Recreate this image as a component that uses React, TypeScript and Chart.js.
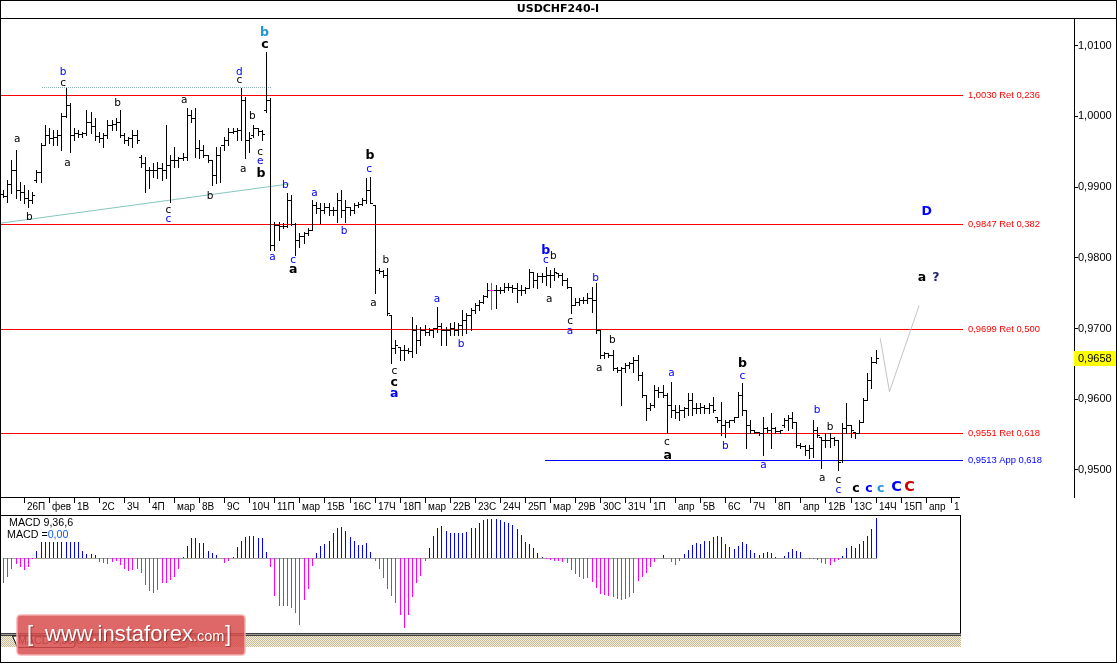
import React, { useEffect, useRef } from "react";
import { Chart, registerables } from "chart.js";

Chart.register(...registerables);

// ---------------- data: USDCHF 4-hour bars ----------------
const opens = [
  0.9890, 0.9888, 0.9904, 0.9924, 0.9896, 0.9893, 0.9885, 0.9882, 0.9910, 0.9921,
  0.9960, 0.9974, 0.9970, 0.9971, 0.9974, 1.0001, 1.0016, 0.9974, 0.9977, 0.9975,
  0.9977, 0.9992, 0.9987, 0.9972, 0.9970, 0.9974, 0.9988, 0.9989, 0.9992, 0.9974,
  0.9967, 0.9970, 0.9974, 0.9943, 0.9934, 0.9924, 0.9924, 0.9924, 0.9927, 0.9924,
  0.9931, 0.9938, 0.9938, 0.9941, 0.9943, 1.0002, 0.9998, 0.9955, 0.9953, 0.9946,
  0.9938, 0.9917, 0.9946, 0.9960, 0.9967, 0.9978, 0.9979, 0.9981, 1.0023, 0.9967,
  0.9974, 0.9984, 0.9979, 1.0009, 1.0023, 0.9818, 0.9847, 0.9845, 0.9845, 0.9882,
  0.9848, 0.9825, 0.9831, 0.9835, 0.9839, 0.9875, 0.9871, 0.9868, 0.9872, 0.9868,
  0.9868, 0.9882, 0.9868, 0.9872, 0.9868, 0.9875, 0.9876, 0.9882, 0.9896, 0.9875,
  0.9783, 0.9781, 0.9776, 0.9719, 0.9673, 0.9674, 0.9670, 0.9670, 0.9668, 0.9698,
  0.9684, 0.9698, 0.9695, 0.9698, 0.9701, 0.9704, 0.9698, 0.9698, 0.9701, 0.9698,
  0.9705, 0.9712, 0.9719, 0.9726, 0.9733, 0.9738, 0.9746, 0.9755, 0.9755, 0.9755,
  0.9755, 0.9759, 0.9759, 0.9757, 0.9755, 0.9755, 0.9757, 0.9780, 0.9769, 0.9774,
  0.9774, 0.9776, 0.9776, 0.9779, 0.9776, 0.9769, 0.9759, 0.9733, 0.9738, 0.9740,
  0.9740, 0.9743, 0.9740, 0.9698, 0.9663, 0.9665, 0.9663, 0.9644, 0.9641, 0.9644,
  0.9649, 0.9651, 0.9656, 0.9634, 0.9606, 0.9588, 0.9592, 0.9613, 0.9610, 0.9606,
  0.9592, 0.9585, 0.9582, 0.9585, 0.9588, 0.9599, 0.9588, 0.9588, 0.9589, 0.9588,
  0.9592, 0.9575, 0.9571, 0.9564, 0.9568, 0.9571, 0.9575, 0.9606, 0.9585, 0.9564,
  0.9557, 0.9554, 0.9552, 0.9559, 0.9557, 0.9559, 0.9555, 0.9564, 0.9571, 0.9574,
  0.9568, 0.9535, 0.9534, 0.9528, 0.9531, 0.9557, 0.9547, 0.9542, 0.9542, 0.9545,
  0.9542, 0.9514, 0.9559, 0.9564, 0.9554, 0.9552, 0.9568, 0.9599, 0.9627, 0.9653,
];

const highs = [
  0.9896, 0.9910, 0.9938, 0.9953, 0.9907, 0.9903, 0.9896, 0.9893, 0.9924, 0.9962,
  0.9988, 0.9984, 0.9981, 0.9981, 1.0005, 1.0040, 1.0019, 0.9984, 0.9981, 0.9978,
  1.0009, 1.0006, 0.9998, 0.9978, 0.9977, 0.9995, 0.9995, 0.9998, 1.0009, 0.9977,
  0.9971, 0.9981, 0.9981, 0.9946, 0.9943, 0.9929, 0.9934, 0.9936, 0.9934, 0.9988,
  0.9946, 0.9957, 0.9943, 0.9948, 1.0012, 1.0009, 1.0012, 0.9967, 0.9960, 0.9946,
  0.9938, 0.9957, 0.9957, 0.9971, 0.9984, 0.9984, 0.9984, 1.0040, 1.0028, 0.9978,
  0.9988, 0.9984, 0.9981, 1.0091, 1.0026, 0.9851, 0.9851, 0.9849, 0.9892, 0.9889,
  0.9849, 0.9835, 0.9837, 0.9842, 0.9882, 0.9879, 0.9878, 0.9878, 0.9878, 0.9872,
  0.9892, 0.9896, 0.9882, 0.9872, 0.9878, 0.9879, 0.9885, 0.9913, 0.9914, 0.9875,
  0.9786, 0.9783, 0.9786, 0.9719, 0.9684, 0.9674, 0.9677, 0.9673, 0.9716, 0.9705,
  0.9702, 0.9705, 0.9701, 0.9701, 0.9731, 0.9708, 0.9702, 0.9708, 0.9709, 0.9708,
  0.9726, 0.9722, 0.9729, 0.9736, 0.9740, 0.9748, 0.9764, 0.9764, 0.9762, 0.9759,
  0.9764, 0.9764, 0.9762, 0.9764, 0.9762, 0.9759, 0.9784, 0.9780, 0.9779, 0.9779,
  0.9787, 0.9783, 0.9786, 0.9779, 0.9779, 0.9772, 0.9759, 0.9743, 0.9743, 0.9745,
  0.9750, 0.9759, 0.9764, 0.9698, 0.9667, 0.9665, 0.9670, 0.9646, 0.9646, 0.9651,
  0.9653, 0.9660, 0.9663, 0.9639, 0.9606, 0.9595, 0.9620, 0.9617, 0.9620, 0.9609,
  0.9624, 0.9592, 0.9592, 0.9589, 0.9609, 0.9609, 0.9595, 0.9595, 0.9592, 0.9595,
  0.9603, 0.9575, 0.9596, 0.9571, 0.9571, 0.9575, 0.9610, 0.9623, 0.9585, 0.9571,
  0.9557, 0.9554, 0.9575, 0.9561, 0.9581, 0.9561, 0.9557, 0.9574, 0.9578, 0.9582,
  0.9568, 0.9538, 0.9535, 0.9535, 0.9571, 0.9561, 0.9547, 0.9552, 0.9552, 0.9547,
  0.9542, 0.9566, 0.9595, 0.9564, 0.9554, 0.9571, 0.9602, 0.9637, 0.9660, 0.9670,
];

const lows = [
  0.9886, 0.9879, 0.9892, 0.9885, 0.9882, 0.9878, 0.9872, 0.9878, 0.9907, 0.9907,
  0.9960, 0.9962, 0.9960, 0.9960, 0.9953, 0.9999, 0.9950, 0.9967, 0.9971, 0.9971,
  0.9974, 0.9977, 0.9967, 0.9964, 0.9957, 0.9970, 0.9981, 0.9981, 0.9971, 0.9962,
  0.9960, 0.9957, 0.9962, 0.9929, 0.9893, 0.9899, 0.9914, 0.9913, 0.9910, 0.9913,
  0.9879, 0.9929, 0.9929, 0.9938, 0.9938, 0.9992, 0.9943, 0.9941, 0.9943, 0.9936,
  0.9903, 0.9906, 0.9907, 0.9953, 0.9960, 0.9977, 0.9967, 0.9967, 0.9941, 0.9950,
  0.9971, 0.9974, 0.9967, 1.0006, 0.9811, 0.9811, 0.9825, 0.9842, 0.9844, 0.9847,
  0.9804, 0.9815, 0.9821, 0.9832, 0.9839, 0.9863, 0.9849, 0.9863, 0.9861, 0.9861,
  0.9851, 0.9858, 0.9851, 0.9861, 0.9863, 0.9872, 0.9875, 0.9878, 0.9878, 0.9750,
  0.9779, 0.9773, 0.9719, 0.9651, 0.9665, 0.9656, 0.9656, 0.9665, 0.9660, 0.9665,
  0.9677, 0.9691, 0.9691, 0.9688, 0.9695, 0.9677, 0.9677, 0.9691, 0.9691, 0.9691,
  0.9691, 0.9694, 0.9698, 0.9722, 0.9726, 0.9736, 0.9745, 0.9728, 0.9729, 0.9750,
  0.9752, 0.9755, 0.9752, 0.9738, 0.9748, 0.9750, 0.9757, 0.9759, 0.9757, 0.9766,
  0.9762, 0.9759, 0.9769, 0.9773, 0.9762, 0.9757, 0.9722, 0.9733, 0.9733, 0.9736,
  0.9736, 0.9723, 0.9694, 0.9658, 0.9658, 0.9660, 0.9641, 0.9639, 0.9592, 0.9639,
  0.9644, 0.9639, 0.9627, 0.9603, 0.9571, 0.9585, 0.9589, 0.9603, 0.9603, 0.9552,
  0.9575, 0.9574, 0.9571, 0.9575, 0.9578, 0.9578, 0.9581, 0.9581, 0.9581, 0.9581,
  0.9582, 0.9568, 0.9550, 0.9547, 0.9561, 0.9568, 0.9575, 0.9578, 0.9531, 0.9552,
  0.9552, 0.9550, 0.9521, 0.9554, 0.9531, 0.9552, 0.9552, 0.9561, 0.9557, 0.9559,
  0.9533, 0.9531, 0.9521, 0.9517, 0.9518, 0.9547, 0.9503, 0.9533, 0.9533, 0.9535,
  0.9500, 0.9511, 0.9552, 0.9547, 0.9545, 0.9552, 0.9568, 0.9599, 0.9616, 0.9651,
];

const closes = [
  0.9888, 0.9904, 0.9924, 0.9896, 0.9893, 0.9885, 0.9882, 0.9889, 0.9921, 0.9960,
  0.9974, 0.9970, 0.9971, 0.9974, 1.0001, 1.0016, 0.9974, 0.9977, 0.9975, 0.9977,
  0.9992, 0.9987, 0.9972, 0.9970, 0.9974, 0.9988, 0.9989, 0.9992, 0.9974, 0.9967,
  0.9970, 0.9974, 0.9967, 0.9934, 0.9924, 0.9924, 0.9924, 0.9927, 0.9924, 0.9931,
  0.9938, 0.9938, 0.9941, 0.9943, 1.0002, 0.9998, 0.9955, 0.9953, 0.9946, 0.9938,
  0.9917, 0.9946, 0.9960, 0.9967, 0.9978, 0.9979, 0.9981, 1.0023, 0.9967, 0.9970,
  0.9984, 0.9979, 0.9975, 1.0023, 0.9818, 0.9847, 0.9845, 0.9845, 0.9882, 0.9848,
  0.9825, 0.9831, 0.9835, 0.9839, 0.9875, 0.9871, 0.9868, 0.9872, 0.9868, 0.9868,
  0.9882, 0.9868, 0.9872, 0.9868, 0.9875, 0.9876, 0.9882, 0.9896, 0.9878, 0.9783,
  0.9781, 0.9776, 0.9722, 0.9673, 0.9677, 0.9670, 0.9670, 0.9668, 0.9698, 0.9684,
  0.9698, 0.9695, 0.9698, 0.9701, 0.9704, 0.9698, 0.9698, 0.9701, 0.9698, 0.9705,
  0.9712, 0.9719, 0.9726, 0.9733, 0.9738, 0.9746, 0.9755, 0.9755, 0.9755, 0.9755,
  0.9759, 0.9759, 0.9757, 0.9755, 0.9755, 0.9757, 0.9780, 0.9769, 0.9774, 0.9774,
  0.9776, 0.9776, 0.9780, 0.9776, 0.9769, 0.9759, 0.9733, 0.9738, 0.9740, 0.9740,
  0.9743, 0.9740, 0.9698, 0.9663, 0.9665, 0.9663, 0.9644, 0.9641, 0.9644, 0.9649,
  0.9651, 0.9656, 0.9634, 0.9606, 0.9588, 0.9592, 0.9613, 0.9610, 0.9606, 0.9592,
  0.9585, 0.9582, 0.9585, 0.9588, 0.9599, 0.9588, 0.9588, 0.9589, 0.9588, 0.9592,
  0.9585, 0.9571, 0.9564, 0.9568, 0.9571, 0.9575, 0.9606, 0.9585, 0.9564, 0.9557,
  0.9554, 0.9552, 0.9559, 0.9557, 0.9559, 0.9555, 0.9557, 0.9571, 0.9574, 0.9568,
  0.9535, 0.9534, 0.9528, 0.9531, 0.9557, 0.9550, 0.9542, 0.9542, 0.9545, 0.9542,
  0.9511, 0.9559, 0.9564, 0.9557, 0.9552, 0.9568, 0.9599, 0.9627, 0.9653, 0.9658,
];

const highlightBar = 117;

const priceTicks = [0.95, 0.96, 0.97, 0.98, 0.99, 1.0, 1.01];
const priceMin = 0.94618;
const priceMax = 1.01392;

const dayLabels = [
  "26П", "фев", "1В", "2С", "3Ч", "4П", "мар", "8В", "9С", "10Ч",
  "11П", "мар", "15В", "16С", "17Ч", "18П", "мар", "22В", "23С", "24Ч",
  "25П", "мар", "29В", "30С", "31Ч", "1П", "апр", "5В", "6С", "7Ч",
  "8П", "апр", "12В", "13С", "14Ч", "15П", "апр", "19В",
];
const firstDayBar = 5;
const barsPerDay = 6;

const fibLevels = [1.003, 0.9847, 0.9699, 0.9551];
const fibRatios = ["0,236", "0,382", "0,500", "0,618"];
const appLevel = 0.9513;
const appRatio = "0,618";
const levelSpan = [-0.84, 229.8];
const appSpan = [129.7, 229.8];
const levelLabelAt = 231;

const resistanceSpan = [9.2, 64.3];
const resistancePrice = 1.00412;
const trendLine = [
  { x: -0.84, y: 0.98489 },
  { x: 68.4, y: 0.99045 },
];
const projection = [
  { x: 210.0, y: 0.96863 },
  { x: 212.2, y: 0.96107 },
  { x: 219.3, y: 0.97324 },
];

// MACD(9,36,6) histogram, in pips
const macdHist = [
  -12.5, -9.2, -5.3, -2.8, -4.2, -5.8, -4.2, -0.3, 3.7, 8.3,
  8.3, 8.3, 8.3, 8.3, 8.3, 8.3, 8.3, 8.3, 8.3, 3.7,
  2.2, 2.2, 1.7, -1.7, -2.2, -2.8, -1.7, -1.2, -3.3, -5.3,
  -6.3, -5.8, -5.3, -7.5, -13.3, -16.2, -17.2, -15.8, -12.5, -12.2,
  -10.8, -9.5, -5.3, 0.8, 6.2, 10, 10, 7.8, 7.5, 3.7,
  2.8, 1.7, 0, -2.2, -1.2, 0.8, 5.5, 8.7, 10.8, 11.3,
  11.3, 10, 10, 3.3, -4.2, -18.8, -23.7, -23.7, -23.7, -25,
  -27.2, -33.3, -20.8, -15.5, -3.8, 2.8, 6.2, 7, 8.7, 12.5,
  15.3, 15.8, 13.7, 10.8, 8.7, 6.7, 6.7, 7.8, 3, -1.3,
  -5.3, -10, -15.5, -18.8, -22.5, -28.3, -35, -28.3, -19.2, -12.5,
  -8.8, -1.2, 5, 11.2, 15, 16.2, 13.8, 12.8, 12.5, 12.5,
  12.5, 13.3, 15, 15.3, 17.5, 19.2, 19.5, 19.5, 19.5, 19.2,
  18.3, 17.5, 16.7, 14.5, 11.7, 8.3, 7, 5, 2.8, 0.8,
  -0.3, -0.8, -1.2, -1.2, -1.7, -2.5, -5.8, -7.8, -9.5, -10.3,
  -10, -11.7, -14.7, -17.8, -18.3, -18.8, -19.2, -20.5, -20.8, -20.5,
  -19.2, -17.2, -11.2, -9.5, -7.2, -4.5, -1.7, 0.3, 1.7, 0,
  -1.7, -3.3, -1.2, 2, 4.2, 6.7, 7.5, 7.2, 8.7, 8.7,
  10.8, 11.2, 10.8, 7.2, 5.5, 4.5, 6.2, 8, 7.2, 4.2,
  2.5, 1.7, 2.5, 3, 2.5, 0.5, 0, 1.2, 3, 4.5,
  3.7, 3.3, 0, -0.5, -0.5, -0.8, -2.2, -2.8, -3.3, -1.7,
  -0.8, 1.2, 5, 6.2, 5, 7.2, 8.7, 11.2, 14.5, 20,
];
const macdMin = -37.35;
const macdMax = 21.65;

// wave labels: text, bar index, price, colour key, style key
const waveLabels: [string, number, number, string, string][] = [
  ["a", 3.3, 0.9967, "k", "s"],
  ["b", 6.2, 0.9858, "k", "s"],
  ["b", 14.3, 1.0062, "b", "s"],
  ["c", 14.3, 1.0047, "k", "s"],
  ["a", 15.3, 0.9934, "k", "s"],
  ["b", 27.3, 1.0019, "k", "s"],
  ["c", 39.5, 0.9868, "k", "s"],
  ["c", 39.5, 0.9854, "b", "s"],
  ["a", 43.3, 1.0023, "k", "s"],
  ["b", 49.5, 0.9887, "k", "s"],
  ["d", 56.5, 1.0063, "b", "s"],
  ["c", 56.5, 1.0051, "k", "s"],
  ["a", 57.4, 0.9925, "k", "s"],
  ["b", 59.6, 1.0, "k", "s"],
  ["c", 61.5, 0.9949, "k", "s"],
  ["e", 61.5, 0.9937, "b", "s"],
  ["b", 61.7, 0.9919, "k", "B"],
  ["b", 62.5, 1.0119, "l", "B"],
  ["c", 62.6, 1.0102, "k", "B"],
  ["a", 64.4, 0.9801, "b", "s"],
  ["b", 67.5, 0.9902, "b", "s"],
  ["c", 69.4, 0.9796, "b", "s"],
  ["a", 69.4, 0.9783, "k", "B"],
  ["a", 74.5, 0.9892, "b", "s"],
  ["b", 81.6, 0.9837, "b", "s"],
  ["b", 87.8, 0.9944, "k", "B"],
  ["c", 87.6, 0.9925, "b", "s"],
  ["a", 88.6, 0.9736, "k", "s"],
  ["b", 91.6, 0.9796, "k", "s"],
  ["c", 93.6, 0.9639, "k", "s"],
  ["c", 93.6, 0.9623, "k", "B"],
  ["a", 93.6, 0.9608, "b", "B"],
  ["a", 103.8, 0.9741, "b", "s"],
  ["b", 109.6, 0.9678, "b", "s"],
  ["b", 129.9, 0.981, "b", "B"],
  ["c", 129.9, 0.9796, "b", "s"],
  ["b", 131.7, 0.9802, "k", "s"],
  ["a", 130.7, 0.9741, "k", "s"],
  ["c", 135.7, 0.971, "k", "s"],
  ["a", 135.7, 0.9696, "b", "s"],
  ["b", 141.8, 0.9771, "b", "s"],
  ["b", 145.8, 0.9683, "k", "s"],
  ["a", 142.7, 0.9644, "k", "s"],
  ["a", 160.0, 0.9637, "b", "s"],
  ["c", 158.9, 0.9539, "k", "s"],
  ["a", 159.1, 0.952, "k", "B"],
  ["b", 172.9, 0.9533, "b", "s"],
  ["b", 177.0, 0.965, "k", "B"],
  ["c", 177.0, 0.9632, "b", "s"],
  ["a", 182.0, 0.9506, "b", "s"],
  ["b", 194.9, 0.9585, "b", "s"],
  ["b", 198.0, 0.956, "k", "s"],
  ["a", 196.1, 0.9489, "k", "s"],
  ["c", 200.0, 0.9486, "k", "s"],
  ["c", 200.0, 0.9472, "b", "s"],
  ["c", 204.2, 0.9474, "k", "B"],
  ["c", 207.3, 0.9474, "b", "B"],
  ["c", 210.1, 0.9474, "l", "B"],
  ["C", 213.9, 0.9475, "b", "L"],
  ["C", 217.0, 0.9475, "r", "L"],
  ["a", 220.0, 0.9772, "k", "B"],
  ["?", 223.3, 0.9772, "n", "B"],
  ["D", 221.1, 0.9865, "b", "B"],
];

// ---------------- layout / style ----------------
const W = 1117;
const H = 663;
const PRICE_TOP = 18;
const PRICE_BOTTOM = 497;
const PRICE_RIGHT = 1074;
const SUB_TOP = 515;
const SUB_BOTTOM = 633;
const SUB_RIGHT = 960;
const X_MIN = -0.838;
const PX_PER_BAR = 4.175;

const SANS = "'Liberation Sans', Arial, sans-serif";
const DJ = "'DejaVu Sans', Verdana, sans-serif";
const labelFonts: Record<string, string> = {
  s: `10.5px ${DJ}`,
  B: `bold 12.5px ${DJ}`,
  L: `bold 14.5px ${DJ}`,
};
const labelColors: Record<string, string> = {
  k: "#000000",
  b: "#0000ff",
  l: "#1f95d6",
  r: "#cc0000",
  n: "#1a2470",
};

const fmt = (v: number) => v.toFixed(4).replace(".", ",");

// ---------------- plugins ----------------
const bgPlugin = {
  id: "bg",
  beforeDraw(chart: any) {
    const { ctx } = chart;
    ctx.save();
    ctx.fillStyle = "#ffffff";
    ctx.fillRect(0, 0, W, H);
    ctx.restore();
  },
};

const levelsPlugin = {
  id: "levels",
  beforeDatasetsDraw(chart: any) {
    const { ctx, scales } = chart;
    const x = scales.x;
    const y = scales.y;
    ctx.save();
    ctx.textBaseline = "middle";
    ctx.font = `9.4px ${SANS}`;
    const draw = (level: number, span: number[], color: string, text: string) => {
      const row = Math.floor(y.getPixelForValue(level));
      const x0 = Math.round(x.getPixelForValue(span[0]));
      const x1 = Math.round(x.getPixelForValue(span[1]));
      ctx.fillStyle = color;
      ctx.fillRect(x0, row, x1 - x0, 1);
      ctx.fillText(text, x.getPixelForValue(levelLabelAt), row + 0.5);
    };
    fibLevels.forEach((lv, k) => draw(lv, levelSpan, "#ff0000", `${fmt(lv)} Ret ${fibRatios[k]}`));
    draw(appLevel, appSpan, "#0000ff", `${fmt(appLevel)} App ${appRatio}`);
    // dotted resistance line
    const ry = Math.floor(y.getPixelForValue(resistancePrice));
    const rx0 = Math.round(x.getPixelForValue(resistanceSpan[0]));
    const rx1 = Math.round(x.getPixelForValue(resistanceSpan[1]));
    ctx.fillStyle = "#8fb5b5";
    for (let px = rx0; px < rx1; px += 2) ctx.fillRect(px, ry, 1, 1);
    ctx.restore();
  },
};

const ohlcPlugin = {
  id: "ohlc",
  afterDatasetsDraw(chart: any) {
    const { ctx, scales, chartArea } = chart;
    const x = scales.x;
    const y = scales.y;
    ctx.save();
    ctx.beginPath();
    ctx.rect(chartArea.left, chartArea.top, chartArea.right - chartArea.left, chartArea.bottom - chartArea.top);
    ctx.clip();
    for (let i = 0; i < highs.length; i++) {
      const n = Math.floor(x.getPixelForValue(i));
      const yh = Math.round(y.getPixelForValue(highs[i]));
      const yl = Math.round(y.getPixelForValue(lows[i]));
      const yo = Math.round(y.getPixelForValue(opens[i]));
      const yc = Math.round(y.getPixelForValue(closes[i]));
      ctx.fillStyle = i === highlightBar ? "#ff00ff" : "#000000";
      ctx.fillRect(n, yh, 1, yl - yh + 1);
      ctx.fillRect(n - 2, yo, 2, 1);
      ctx.fillRect(n + 1, yc, 2, 1);
    }
    ctx.restore();
  },
};

const wavePlugin = {
  id: "waves",
  afterDatasetsDraw(chart: any) {
    const { ctx, scales } = chart;
    const x = scales.x;
    const y = scales.y;
    ctx.save();
    ctx.textAlign = "center";
    ctx.textBaseline = "middle";
    waveLabels.forEach(([t, i, p, c, s]) => {
      ctx.font = labelFonts[s];
      ctx.fillStyle = labelColors[c];
      ctx.fillText(t, x.getPixelForValue(i), y.getPixelForValue(p));
    });
    ctx.restore();
  },
};

const framePlugin = {
  id: "frame",
  afterDraw(chart: any) {
    const { ctx, scales } = chart;
    const x = scales.x;
    const y = scales.y;
    ctx.save();
    ctx.fillStyle = "#000000";
    // title bar
    ctx.fillRect(0, PRICE_TOP, W, 1);
    ctx.font = `bold 11px ${DJ}`;
    ctx.textAlign = "center";
    ctx.textBaseline = "middle";
    ctx.fillText("USDCHF240-I", 558, 9.5);
    // date row
    ctx.fillRect(0, PRICE_BOTTOM, SUB_RIGHT, 1);
    ctx.save();
    ctx.beginPath();
    ctx.rect(0, PRICE_BOTTOM, SUB_RIGHT - 1, SUB_TOP - PRICE_BOTTOM);
    ctx.clip();
    ctx.font = `10px ${SANS}`;
    ctx.textAlign = "left";
    dayLabels.forEach((lab, k) => {
      const px = Math.floor(x.getPixelForValue(firstDayBar + k * barsPerDay));
      ctx.fillRect(px, PRICE_BOTTOM + 1, 1, 5);
      ctx.fillText(lab, px + 3, 507);
    });
    ctx.restore();
    // current price marker
    const last = closes[closes.length - 1];
    const py = Math.round(y.getPixelForValue(last));
    ctx.fillStyle = "#ffff00";
    ctx.fillRect(PRICE_RIGHT, py - 7, W - 1 - PRICE_RIGHT, 15);
    ctx.fillStyle = "#000000";
    ctx.font = `11px ${SANS}`;
    ctx.textAlign = "left";
    ctx.textBaseline = "middle";
    ctx.fillText(fmt(last), PRICE_RIGHT + 4, py + 0.5);
    // outer border
    ctx.strokeStyle = "#000000";
    ctx.lineWidth = 1;
    ctx.strokeRect(0.5, 0.5, W - 1, H - 1);
    ctx.restore();
  },
};

const macdPlugin = {
  id: "macdPanel",
  beforeDatasetsDraw(chart: any) {
    const { ctx, scales } = chart;
    const x = scales.x;
    const y = scales.y;
    const meta = chart.getDatasetMeta(0);
    meta.data.forEach((el: any) => {
      el.x = Math.floor(el.x) + 0.5;
      el.y = Math.round(el.y);
      el.base = Math.round(el.base);
    });
    const row = Math.round(y.getPixelForValue(0));
    ctx.save();
    ctx.fillStyle = "#a0a0a0";
    const x0 = Math.floor(x.getPixelForValue(0));
    const x1 = Math.floor(x.getPixelForValue(macdHist.length - 1)) + 1;
    ctx.fillRect(x0, row, x1 - x0, 1);
    ctx.restore();
  },
  afterDraw(chart: any) {
    const { ctx } = chart;
    ctx.save();
    // panel frame
    ctx.fillStyle = "#000000";
    ctx.fillRect(0, SUB_TOP, SUB_RIGHT, 1);
    ctx.fillRect(SUB_RIGHT, SUB_TOP, 1, SUB_BOTTOM - SUB_TOP + 3);
    // indicator captions
    ctx.font = `10.7px ${SANS}`;
    ctx.textAlign = "left";
    ctx.textBaseline = "middle";
    ctx.fillText("MACD 9,36,6", 9, 523);
    ctx.fillText("MACD =", 7, 535);
    const w = ctx.measureText("MACD =").width;
    ctx.fillStyle = "#1060ff";
    ctx.fillText("0,00", 7 + w, 535);
    // bottom double line + hatched strip
    ctx.fillStyle = "#3c3c3c";
    ctx.fillRect(1, SUB_BOTTOM, SUB_RIGHT, 1);
    ctx.fillStyle = "#9a9a9a";
    ctx.fillRect(1, SUB_BOTTOM + 1, SUB_RIGHT, 1);
    ctx.fillStyle = "#3c3c3c";
    ctx.fillRect(1, SUB_BOTTOM + 2, SUB_RIGHT, 1);
    const pc = document.createElement("canvas");
    pc.width = 2;
    pc.height = 2;
    const pctx = pc.getContext("2d") as CanvasRenderingContext2D;
    pctx.fillStyle = "#f3efe2";
    pctx.fillRect(0, 0, 2, 2);
    pctx.fillStyle = "#c6b994";
    pctx.fillRect(0, 0, 1, 1);
    pctx.fillRect(1, 1, 1, 1);
    const pattern = ctx.createPattern(pc, "repeat");
    ctx.fillStyle = pattern;
    ctx.fillRect(1, SUB_BOTTOM + 3, SUB_RIGHT, 11);
    // tabs
    ctx.lineWidth = 1;
    ctx.beginPath();
    ctx.moveTo(12.5, SUB_BOTTOM + 3);
    ctx.lineTo(17.5, 647.5);
    ctx.lineTo(73.5, 647.5);
    ctx.lineTo(78.5, SUB_BOTTOM + 3);
    ctx.closePath();
    ctx.fillStyle = "#ffffff";
    ctx.fill();
    ctx.strokeStyle = "#000000";
    ctx.stroke();
    ctx.fillStyle = "#000000";
    ctx.font = `10.7px ${SANS}`;
    ctx.fillText("MACD 9,36,6", 18, 641.5);
    ctx.beginPath();
    ctx.moveTo(78.5, 647.5);
    ctx.lineTo(186.5, 647.5);
    ctx.lineTo(191.5, SUB_BOTTOM + 3);
    ctx.strokeStyle = "#808080";
    ctx.stroke();
    ctx.fillStyle = "#808080";
    ctx.fillText("Stoch 13,3,3 (80%-20%)", 81, 641.5);
    // watermark
    const bx = 17, by = 615, bw = 228, bh = 40, r = 4;
    ctx.beginPath();
    ctx.moveTo(bx + r, by);
    ctx.lineTo(bx + bw - r, by);
    ctx.quadraticCurveTo(bx + bw, by, bx + bw, by + r);
    ctx.lineTo(bx + bw, by + bh - r);
    ctx.quadraticCurveTo(bx + bw, by + bh, bx + bw - r, by + bh);
    ctx.lineTo(bx + r, by + bh);
    ctx.quadraticCurveTo(bx, by + bh, bx, by + bh - r);
    ctx.lineTo(bx, by + r);
    ctx.quadraticCurveTo(bx, by, bx + r, by);
    ctx.closePath();
    ctx.fillStyle = "rgba(216, 78, 78, 0.86)";
    ctx.fill();
    ctx.strokeStyle = "rgba(245, 175, 175, 0.95)";
    ctx.lineWidth = 1.5;
    ctx.stroke();
    ctx.shadowColor = "rgba(80, 0, 0, 0.45)";
    ctx.shadowOffsetX = 1;
    ctx.shadowOffsetY = 1;
    ctx.shadowBlur = 1;
    ctx.fillStyle = "#ffffff";
    ctx.textBaseline = "alphabetic";
    ctx.font = `22px ${SANS}`;
    ctx.fillText("[", 27, 641);
    ctx.fillText("www.instaforex", 45, 641);
    const ww = ctx.measureText("www.instaforex").width;
    ctx.font = `14.5px ${SANS}`;
    ctx.fillText(".com", 45 + ww, 641);
    ctx.font = `22px ${SANS}`;
    ctx.fillText("]", 225, 641);
    ctx.restore();
  },
};

// ---------------- component ----------------
export default function App() {
  const priceRef = useRef<HTMLCanvasElement>(null);
  const macdRef = useRef<HTMLCanvasElement>(null);

  useEffect(() => {
    const priceChart = new Chart(priceRef.current as HTMLCanvasElement, {
      type: "line",
      data: {
        datasets: [
          {
            label: "trend",
            data: trendLine,
            borderColor: "#86c6c0",
            borderWidth: 1,
            pointRadius: 0,
            tension: 0,
          },
          {
            label: "projection",
            data: projection,
            borderColor: "#c4c4c4",
            borderWidth: 1,
            pointRadius: 0,
            tension: 0,
          },
        ],
      },
      options: {
        animation: false,
        responsive: false,
        devicePixelRatio: 1,
        events: [],
        layout: { padding: { left: 0, top: PRICE_TOP, right: 0, bottom: H - PRICE_BOTTOM } },
        plugins: { legend: { display: false }, tooltip: { enabled: false }, title: { display: false } },
        scales: {
          x: {
            type: "linear",
            offset: false,
            min: X_MIN,
            max: X_MIN + PRICE_RIGHT / PX_PER_BAR,
            display: false,
          },
          y: {
            type: "linear",
            position: "right",
            min: priceMin,
            max: priceMax,
            afterFit: (s: any) => {
              s.width = W - PRICE_RIGHT;
            },
            afterBuildTicks: (s: any) => {
              s.ticks = priceTicks.map((v) => ({ value: v }));
            },
            ticks: {
              autoSkip: false,
              padding: 0,
              color: "#000000",
              font: { family: "'Liberation Sans', Arial, sans-serif", size: 11 },
              callback: (v: any) => fmt(Number(v)),
            },
            grid: { display: true, drawOnChartArea: false, drawTicks: true, tickLength: 4, color: "#000000", lineWidth: 1 },
            border: { display: true, color: "#000000", width: 1 },
          },
        },
      },
      plugins: [bgPlugin, levelsPlugin, ohlcPlugin, wavePlugin, framePlugin],
    } as any);

    const macdChart = new Chart(macdRef.current as HTMLCanvasElement, {
      type: "bar",
      data: {
        datasets: [
          {
            label: "MACD",
            data: macdHist.map((v, i) => ({ x: i, y: v })),
            backgroundColor: macdHist.map((v) => (v >= 0 ? "#0000ff" : "#ff00ff")),
            barThickness: 1,
            borderWidth: 0,
            inflateAmount: 0,
          },
        ],
      },
      options: {
        animation: false,
        responsive: false,
        devicePixelRatio: 1,
        events: [],
        layout: { padding: { left: 0, top: SUB_TOP, right: W - SUB_RIGHT, bottom: H - SUB_BOTTOM } },
        plugins: { legend: { display: false }, tooltip: { enabled: false } },
        scales: {
          x: { type: "linear", offset: false, min: X_MIN, max: X_MIN + SUB_RIGHT / PX_PER_BAR, display: false },
          y: { type: "linear", min: macdMin, max: macdMax, display: false },
        },
      },
      plugins: [macdPlugin],
    } as any);

    return () => {
      priceChart.destroy();
      macdChart.destroy();
    };
  }, []);

  return (
    <div style={{ position: "absolute", left: 0, top: 0, width: W, height: H, background: "#ffffff", overflow: "hidden" }}>
      <canvas ref={priceRef} width={W} height={H} style={{ position: "absolute", left: 0, top: 0, width: W, height: H }} />
      <canvas ref={macdRef} width={W} height={H} style={{ position: "absolute", left: 0, top: 0, width: W, height: H }} />
    </div>
  );
}
